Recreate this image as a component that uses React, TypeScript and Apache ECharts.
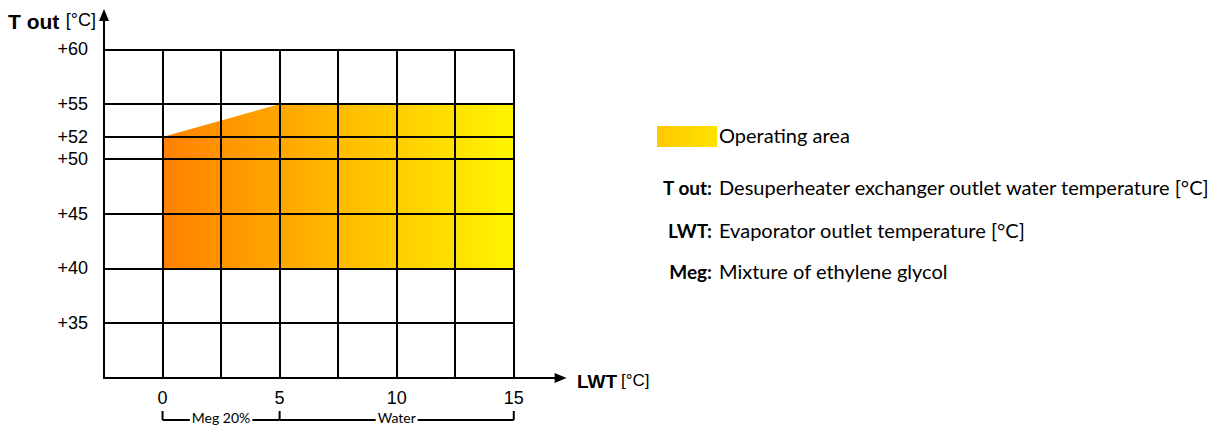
import React, { useEffect, useRef } from "react";
import * as echarts from "echarts";

const xLabelValues = [0, 5, 10, 15];
const yLabelValues = [35, 40, 45, 50, 52, 55, 60];
const xGridValues = [0, 2.5, 5, 7.5, 10, 12.5, 15];
const yGridValues = [35, 40, 45, 50, 52, 55, 60];
const areaX = [0, 0, 5, 15, 15];
const areaY = [40, 52, 55, 55, 40];
const rangeNames = ["Meg 20%", "Water"];
const rangeFrom = [0, 5];
const rangeTo = [5, 15];
const legendTerms = ["T out:", "LWT:", "Meg:"];
const legendDescriptions = [
  "Desuperheater exchanger outlet water temperature [°C]",
  "Evaporator outlet temperature [°C]",
  "Mixture of ethylene glycol",
];

const X_MIN = -2.5;
const X_MAX = 15;
const Y_MIN = 30;
const Y_MAX = 60;

const TICK_FONT = "'Liberation Sans', Arial, sans-serif";
const TEXT_FONT = "Lato, 'Open Sans', sans-serif";

export default function App() {
  const ref = useRef<HTMLDivElement>(null);
  useEffect(() => {
    const chart = echarts.init(ref.current!, null, { renderer: "svg" });

    const gridLines: any[] = [];
    xGridValues.forEach((x) => {
      gridLines.push([{ coord: [x, Y_MIN] }, { coord: [x, Y_MAX] }]);
    });
    yGridValues.forEach((y) => {
      gridLines.push([{ coord: [X_MIN, y] }, { coord: [X_MAX, y] }]);
    });

    const areaFill = new echarts.graphic.LinearGradient(0, 0, 1, 0, [
      { offset: 0, color: "#FF8000" },
      { offset: 0.35, color: "#FFA800" },
      { offset: 1, color: "#FFF500" },
    ]);

    const option: any = {
      animation: false,
      grid: { left: 104, top: 15, width: 456.6, height: 363 },
      xAxis: {
        type: "value",
        min: X_MIN,
        max: 17,
        splitLine: { show: false },
        axisTick: { show: false },
        axisLine: {
          show: true,
          onZero: false,
          symbol: ["none", "triangle"],
          symbolSize: [10, 12],
          lineStyle: { color: "#000", width: 2 },
        },
        axisLabel: {
          customValues: xLabelValues,
          margin: 11,
          color: "#000",
          fontSize: 18,
          fontFamily: TICK_FONT,
        },
      },
      yAxis: {
        type: "value",
        min: Y_MIN,
        max: 63.13,
        splitLine: { show: false },
        axisTick: { show: false },
        axisLine: {
          show: true,
          onZero: false,
          symbol: ["none", "triangle"],
          symbolSize: [10, 12],
          lineStyle: { color: "#000", width: 2 },
        },
        axisLabel: {
          customValues: yLabelValues,
          margin: 16,
          color: "#000",
          fontSize: 18,
          fontFamily: TICK_FONT,
          formatter: (v: number) => "+" + v,
        },
      },
      series: [
        {
          type: "custom",
          silent: true,
          z: 1,
          data: areaX.map((x, i) => [x, areaY[i]]),
          renderItem: (params: any, api: any) => {
            if (params.dataIndex !== 0) return null;
            const pts = areaX.map((x, i) => api.coord([x, areaY[i]]));
            return {
              type: "polygon",
              shape: { points: pts },
              style: { fill: areaFill },
            };
          },
        },
        {
          type: "line",
          data: [],
          z: 5,
          markLine: {
            silent: true,
            symbol: ["none", "none"],
            label: { show: false },
            lineStyle: { color: "#000", width: 2, type: "solid" },
            data: gridLines,
          },
        },
      ],
    };
    chart.setOption(option);

    const px = (x: number, y: number) =>
      chart.convertToPixel({ gridIndex: 0 }, [x, y]) as number[];

    const graphics: any[] = [];
    // bracket below x axis
    const bracketY = 420;
    const tickTop = 411;
    const allX = Array.from(new Set([...rangeFrom, ...rangeTo]));
    allX.forEach((v) => {
      const p = px(v, Y_MIN)[0];
      graphics.push({
        type: "line",
        shape: { x1: p, y1: tickTop, x2: p, y2: bracketY },
        style: { stroke: "#000", lineWidth: 2 },
        z: 10,
      });
    });
    rangeNames.forEach((name, i) => {
      const a = px(rangeFrom[i], Y_MIN)[0];
      const b = px(rangeTo[i], Y_MIN)[0];
      graphics.push({
        type: "line",
        shape: { x1: a, y1: bracketY, x2: b, y2: bracketY },
        style: { stroke: "#000", lineWidth: 2 },
        z: 10,
      });
      graphics.push({
        type: "text",
        x: (a + b) / 2,
        y: bracketY - 3,
        z: 11,
        style: {
          text: name,
          align: "center",
          verticalAlign: "middle",
          fontFamily: TEXT_FONT,
          fontSize: 14,
          fill: "#000",
          backgroundColor: "#fff",
          padding: [0, 2],
        },
      });
    });

    // axis titles
    graphics.push({
      type: "text",
      x: 8,
      y: 21,
      style: {
        text: "T out",
        fontFamily: TICK_FONT,
        fontWeight: "bold",
        fontSize: 21,
        fill: "#000",
        align: "left",
        verticalAlign: "middle",
      },
    });
    graphics.push({
      type: "text",
      x: 96,
      y: 20,
      style: {
        text: "[°C]",
        fontFamily: TICK_FONT,
        fontSize: 18,
        fill: "#000",
        align: "right",
        verticalAlign: "middle",
      },
    });
    graphics.push({
      type: "text",
      x: 577,
      y: 381,
      style: {
        text: "LWT",
        fontFamily: TICK_FONT,
        fontWeight: "bold",
        fontSize: 19,
        fill: "#000",
        align: "left",
        verticalAlign: "middle",
      },
    });
    graphics.push({
      type: "text",
      x: 621,
      y: 380,
      style: {
        text: "[°C]",
        fontFamily: TICK_FONT,
        fontSize: 17,
        fill: "#000",
        align: "left",
        verticalAlign: "middle",
      },
    });

    // legend
    graphics.push({
      type: "rect",
      shape: { x: 657, y: 126, width: 60, height: 21 },
      style: {
        fill: new echarts.graphic.LinearGradient(0, 0, 1, 0, [
          { offset: 0, color: "#FFC800" },
          { offset: 1, color: "#FFE300" },
        ]),
      },
    });
    graphics.push({
      type: "text",
      x: 719,
      y: 135,
      style: {
        text: "Operating area",
        fontFamily: TEXT_FONT,
        fontSize: 20,
        fill: "#000",
        align: "left",
        verticalAlign: "middle",
      },
    });
    const rowY = [187, 230, 271];
    legendTerms.forEach((t, i) => {
      graphics.push({
        type: "text",
        x: 712,
        y: rowY[i],
        style: {
          text: t,
          fontFamily: TEXT_FONT,
          fontWeight: "bold",
          fontSize: 19,
          fill: "#000",
          align: "right",
          verticalAlign: "middle",
        },
      });
      graphics.push({
        type: "text",
        x: 719,
        y: rowY[i],
        style: {
          text: legendDescriptions[i],
          fontFamily: TEXT_FONT,
          fontSize: 20,
          fill: "#000",
          align: "left",
          verticalAlign: "middle",
        },
      });
    });

    chart.setOption({ graphic: graphics });
    return () => chart.dispose();
  }, []);
  return (
    <div
      ref={ref}
      style={{ position: "absolute", left: 0, top: 0, width: 1210, height: 425 }}
    />
  );
}
